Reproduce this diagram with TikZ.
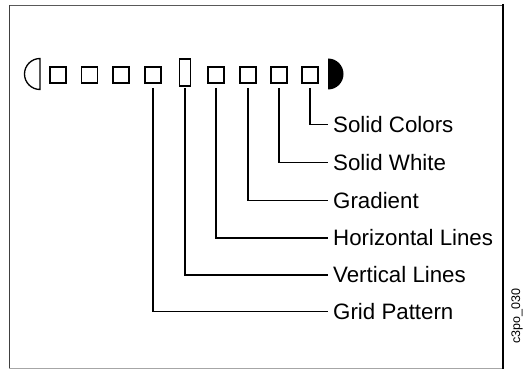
\documentclass[tikz,border=0pt]{standalone}
\usepackage{fontspec}
\setmainfont{Liberation Sans}
\begin{document}
\begin{tikzpicture}[x=1pt,y=-1pt,
  sq/.style={draw=black,line width=1.3pt,minimum width=16pt,minimum height=16pt,inner sep=0pt,outer sep=0pt},
  tallbox/.style={draw=black,line width=1.3pt,minimum width=11pt,minimum height=27pt,inner sep=0pt,outer sep=0pt},
  lbl/.style={anchor=west,inner xsep=5pt,inner ysep=0pt,font=\fontsize{22.3}{25}\selectfont},
  conn/.style={line width=1.2pt,black}]
\useasboundingbox (0,0) rectangle (528,369);
% frame
\draw[line width=0.8pt,black!65] (9,5) -- (503,5);
\draw[line width=0.9pt,black!75] (9,5) -- (9,368);
\draw[line width=0.8pt,black!35] (9,368) -- (503,368);
\draw[line width=1.8pt,black] (503,4) -- (503,369);
% half circles
\draw[line width=1.3pt] (40,89.5) arc[start angle=90,end angle=270,radius=15.5] -- cycle;
\fill[black] (328,89.5) arc[start angle=90,end angle=-90,radius=15.5] -- cycle;
% boxes
\node[sq] (s1) at (58,75) {};
\node[sq] (s2) at (89.5,75) {};
\node[sq] (s3) at (121,75) {};
\node[sq] (s4) at (153,75) {};
\node[tallbox] (t) at (185,72.5) {};
\node[sq] (s5) at (216,75) {};
\node[sq] (s6) at (248,75) {};
\node[sq] (s7) at (279,75) {};
\node[sq] (s8) at (310,75) {};
% labels
\node[lbl] (l1) at (328,124.5) {Solid Colors};
\node[lbl] (l2) at (328,162.5) {Solid White};
\node[lbl] (l3) at (328,200.5) {Gradient};
\node[lbl] (l4) at (328,238) {Horizontal Lines};
\node[lbl] (l5) at (328,275) {Vertical Lines};
\node[lbl] (l6) at (328,311.5) {Grid Pattern};
% connectors
\draw[conn] ([yshift=-5pt]s8.south) |- (l1.west);
\draw[conn] ([yshift=-5pt]s7.south) |- (l2.west);
\draw[conn] ([yshift=-5pt]s6.south) |- (l3.west);
\draw[conn] ([yshift=-5pt]s5.south) |- (l4.west);
\draw[conn] ([yshift=-2.5pt]t.south) |- (l5.west);
\draw[conn] ([yshift=-5pt]s4.south) |- (l6.west);
% side code
\node[rotate=90,font=\fontsize{12.5}{14}\selectfont,inner sep=0pt] (code) at (517,316) {c3po\_030};
\end{tikzpicture}
\end{document}
